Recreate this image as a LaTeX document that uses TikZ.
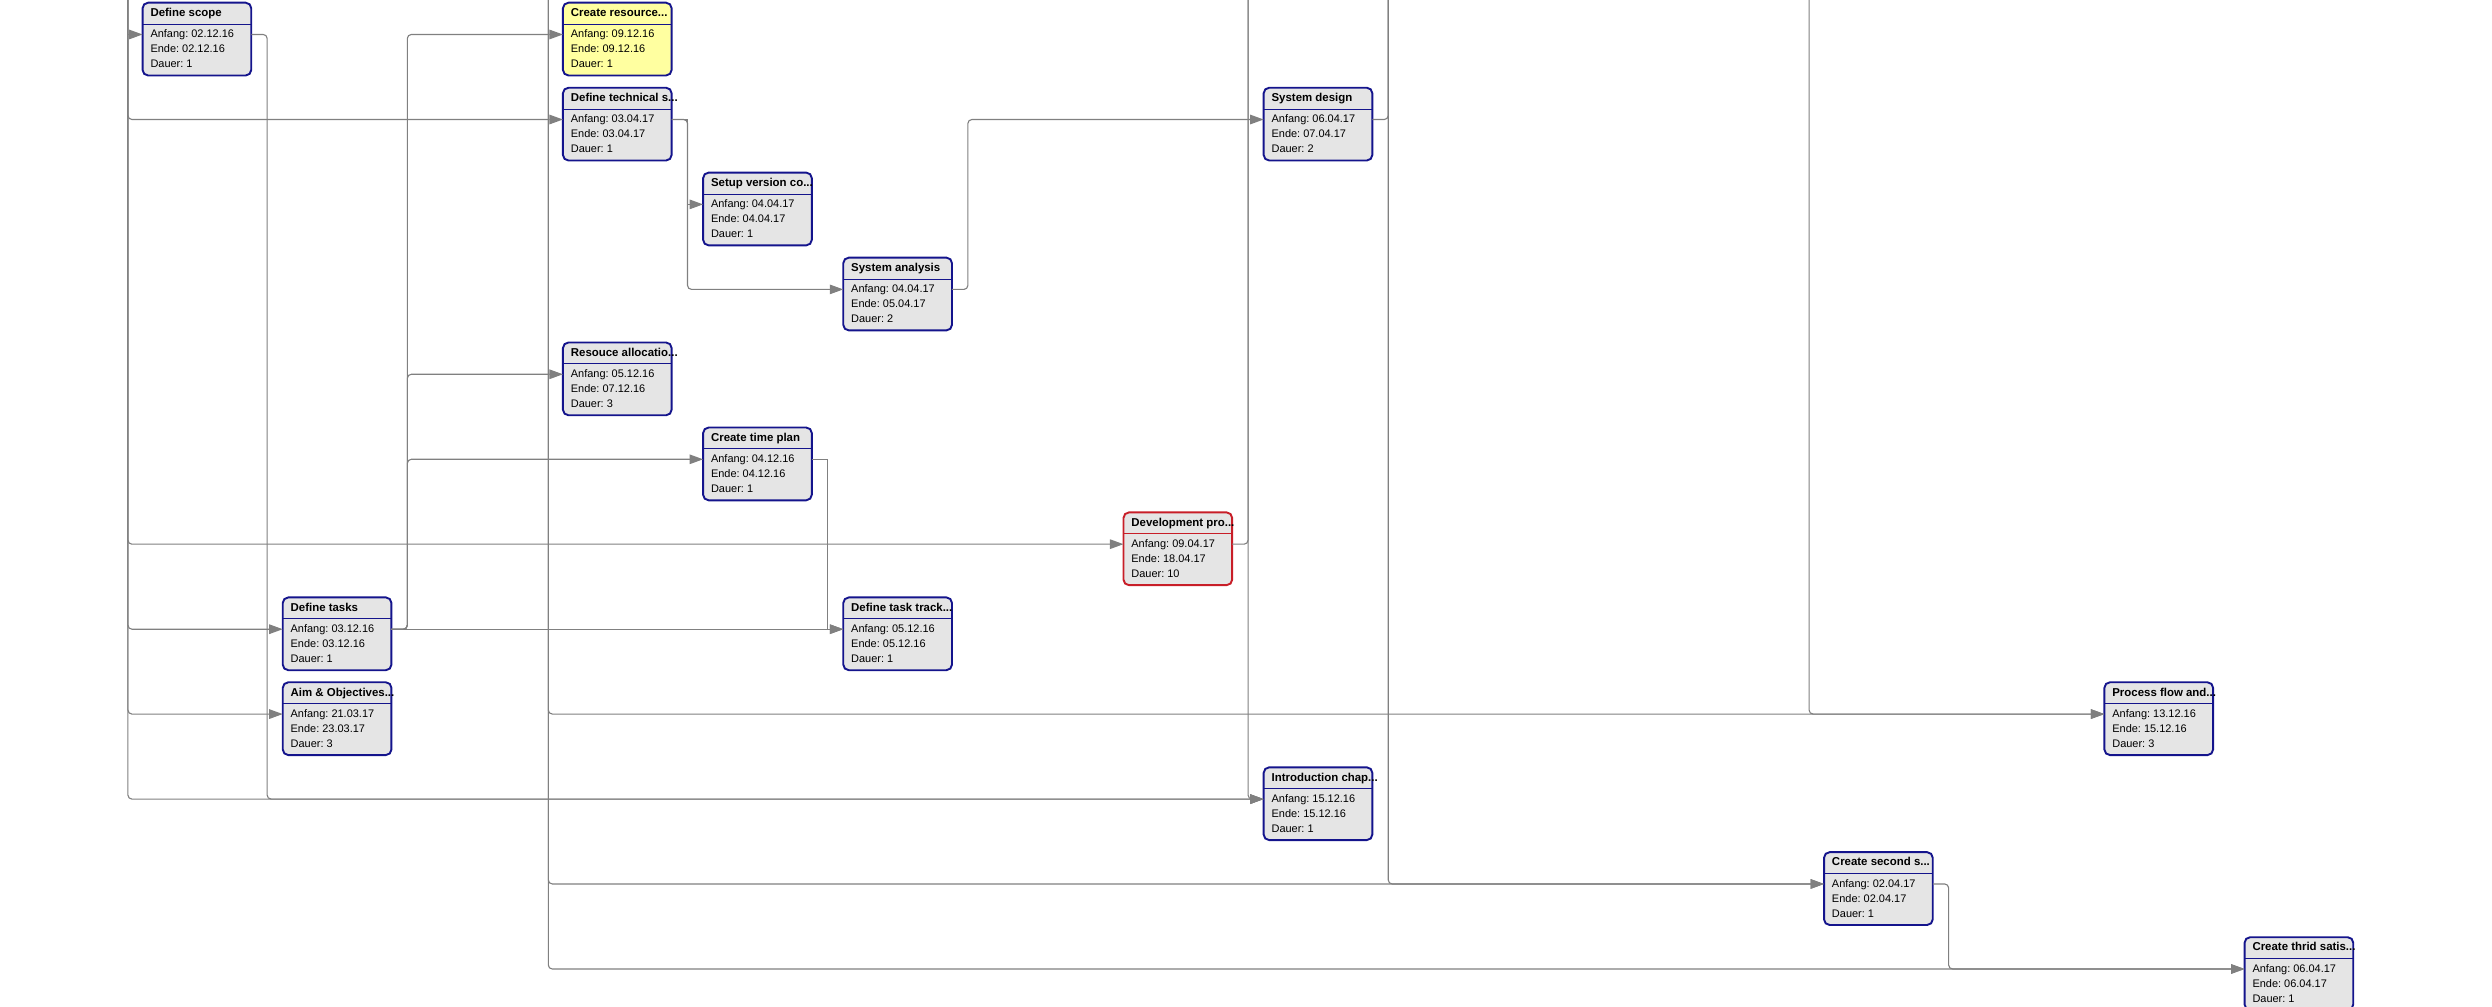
\documentclass[tikz,border=0pt]{standalone}
\usepackage{fontspec}
\setmainfont{Liberation Sans}
\usetikzlibrary{arrows.meta}
\usetikzlibrary{shapes.multipart}

\definecolor{taskblue}{RGB}{20,20,140}
\definecolor{taskred}{RGB}{200,30,40}
\definecolor{taskfill}{RGB}{229,229,229}
\definecolor{taskyellow}{RGB}{255,255,160}
\definecolor{linkgray}{RGB}{128,128,128}

\frenchspacing
\newcommand\tasktitle[1]{\strut\makebox[0pt][l]{\fontsize{7.2}{9.4}\selectfont\bfseries #1}}
\newcommand\taskdates[3]{\strut Anfang: #1\\Ende: #2\\Dauer: #3\strut}

\tikzset{
	task/.style={rectangle split, rectangle split parts=2, rectangle split draw splits=false,
		draw=taskblue, line width=1.2pt, rounded corners=3.5pt, fill=taskfill,
		text width=58.4pt, inner xsep=5pt, inner ysep=1.45pt, outer sep=0pt,
		align=flush left, anchor=north west, font=\fontsize{6.9}{9.4}\selectfont\frenchspacing},
	wire/.style={draw=linkgray, line width=0.7pt, rounded corners=2.5pt},
	link/.style={wire, -{Triangle[length=8.5pt,width=6pt]}},
}

\begin{document}
\begin{tikzpicture}[x=1pt, y=-1pt]
\useasboundingbox (0,0) rectangle (1568,633.6);

	% tasks
\path
	(89.7,1.7) node[task] (scope) {\tasktitle{Define scope}\nodepart{two}\taskdates{02.12.16}{02.12.16}{1}}
	(354.2,1.7) node[task, fill=taskyellow] (resrc) {\tasktitle{Create resource...}\nodepart{two}\taskdates{09.12.16}{09.12.16}{1}}
	(354.2,55.2) node[task] (techspec) {\tasktitle{Define technical s...}\nodepart{two}\taskdates{03.04.17}{03.04.17}{1}}
	(442.4,108.6) node[task] (version) {\tasktitle{Setup version co...}\nodepart{two}\taskdates{04.04.17}{04.04.17}{1}}
	(530.6,162.1) node[task] (analysis) {\tasktitle{System analysis}\nodepart{two}\taskdates{04.04.17}{05.04.17}{2}}
	(795.1,55.2) node[task] (design) {\tasktitle{System design}\nodepart{two}\taskdates{06.04.17}{07.04.17}{2}}
	(354.2,215.5) node[task] (alloc) {\tasktitle{Resouce allocatio...}\nodepart{two}\taskdates{05.12.16}{07.12.16}{3}}
	(442.4,269.0) node[task] (timeplan) {\tasktitle{Create time plan}\nodepart{two}\taskdates{04.12.16}{04.12.16}{1}}
	(706.9,322.4) node[task, draw=taskred] (devproc) {\tasktitle{Development pro...}\nodepart{two}\taskdates{09.04.17}{18.04.17}{10}}
	(177.9,375.9) node[task] (tasks) {\tasktitle{Define tasks}\nodepart{two}\taskdates{03.12.16}{03.12.16}{1}}
	(530.6,375.9) node[task] (tracking) {\tasktitle{Define task track...}\nodepart{two}\taskdates{05.12.16}{05.12.16}{1}}
	(177.9,429.3) node[task] (aims) {\tasktitle{Aim \& Objectives...}\nodepart{two}\taskdates{21.03.17}{23.03.17}{3}}
	(1324.1,429.3) node[task] (flow) {\tasktitle{Process flow and...}\nodepart{two}\taskdates{13.12.16}{15.12.16}{3}}
	(795.1,482.8) node[task] (intro) {\tasktitle{Introduction chap...}\nodepart{two}\taskdates{15.12.16}{15.12.16}{1}}
	(1147.7,536.2) node[task] (second) {\tasktitle{Create second s...}\nodepart{two}\taskdates{02.04.17}{02.04.17}{1}}
	(1412.3,589.7) node[task] (third) {\tasktitle{Create thrid satis...}\nodepart{two}\taskdates{06.04.17}{06.04.17}{1}}
	;

	% title rules, ports
\foreach \t/\c in {scope/taskblue, resrc/taskblue, techspec/taskblue, version/taskblue,
		analysis/taskblue, design/taskblue, alloc/taskblue, timeplan/taskblue,
		devproc/taskred, tasks/taskblue, tracking/taskblue, aims/taskblue,
		flow/taskblue, intro/taskblue, second/taskblue, third/taskblue} {
	\draw[\c, line width=0.6pt] (\t.one split west) -- (\t.one split east);
	\coordinate (\t-in) at ([yshift=-20pt]\t.north west);
	\coordinate (\t-out) at ([yshift=-20pt]\t.north east);
}

	% lanes from above
\path
	(80.5,0) coordinate (laneA)
	(345,0) coordinate (laneB)
	(785.3,0) coordinate (laneC)
	(873.5,0) coordinate (laneD)
	(1138.3,0) coordinate (laneE)
	;

\draw[link, sharp corners] (laneA) |- (scope-in);
\draw[link] (laneA) |- (techspec-in);
\draw[link] (laneA) |- (devproc-in);
\draw[link] (laneA) |- (tasks-in);
\draw[link] (laneA) |- (aims-in);
\draw[link] (laneA) |- (intro-in);
\draw[link] (laneB) |- (flow-in);
\draw[link] (laneB) |- (second-in);
\draw[link] (laneB) |- (third-in);
\draw[link] (laneC) |- (intro-in);
\draw[link] (laneD) |- (second-in);
\draw[link] (laneE) |- (flow-in);

	% links
\draw[link] (scope-out) -- ++(10,0) |- (intro-in);
\draw[link] (tasks-out) -- ++(10,0) |- (resrc-in);
\draw[link] (tasks-out) -- ++(10,0) |- (alloc-in);
\draw[link] (tasks-out) -- ++(10,0) |- (timeplan-in);
\draw[link] (tasks-out) -- (tracking-in);
\draw[link, sharp corners] (techspec-out) -- ++(10,0) |- (version-in);
\draw[link] (techspec-out) -- ++(10,0) |- (analysis-in);
\draw[link] (analysis-out) -- ++(10,0) |- (design-in);
\draw[link, sharp corners] (timeplan-out) -- ++(10,0) |- (tracking-in);
\draw[link] (second-out) -- ++(10,0) |- (third-in);
\draw[wire] (devproc-out) -| (laneC);
\draw[wire] (design-out) -| (laneD);
\end{tikzpicture}
\end{document}
